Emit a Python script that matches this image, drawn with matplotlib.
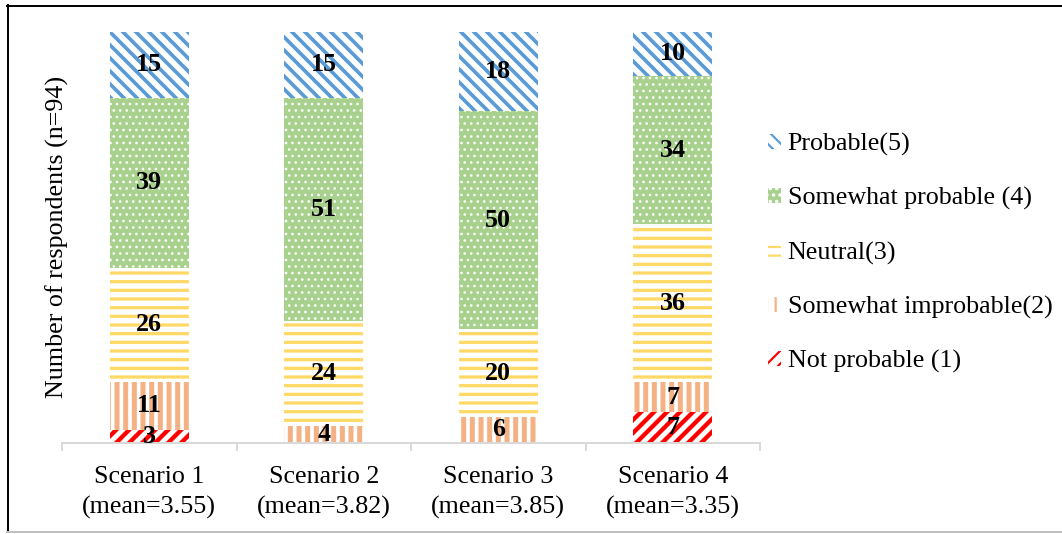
import matplotlib
matplotlib.use('Agg')
import matplotlib.pyplot as plt
import numpy as np
from matplotlib.lines import Line2D

plt.rcParams['font.family'] = ['Liberation Serif', 'DejaVu Serif']

# Data (counts of respondents, n=94)
scenarios = ['Scenario 1\n(mean=3.55)', 'Scenario 2\n(mean=3.82)',
             'Scenario 3\n(mean=3.85)', 'Scenario 4\n(mean=3.35)']
categories = ['Not probable (1)', 'Somewhat improbable(2)', 'Neutral(3)',
              'Somewhat probable (4)', 'Probable(5)']
not_probable = [3, 0, 0, 7]
somewhat_improbable = [11, 4, 6, 7]
neutral = [26, 24, 20, 36]
somewhat_probable = [39, 51, 50, 34]
probable = [15, 15, 18, 10]
series = [not_probable, somewhat_improbable, neutral, somewhat_probable, probable]

# (facecolor, hatch colour, hatch, hatch linewidth)
styles = [
    ('white', '#FF0000', '////', 2.0),
    ('white', '#F4B183', '|||', 2.3),
    ('white', '#FFD966', '---', 1.5),
    ('#A9D18E', 'white', '....', 0.6),
    ('white', '#5B9BD5', '\\\\\\\\', 1.7),
]

DPI = 156
fig = plt.figure(figsize=(1062 / DPI, 534 / DPI), dpi=DPI)
ax = fig.add_axes([62 / 1062, 1 - 443 / 534, (760 - 62) / 1062, (443 - 32) / 534])

x = np.arange(len(scenarios))
bottom = np.zeros(len(scenarios))
handles = []
for vals, name, (fc, hc, hatch, hlw) in zip(series, categories, styles):
    with plt.rc_context({'hatch.linewidth': hlw}):
        bars = ax.bar(x, vals, 0.453, bottom=bottom, facecolor=fc, edgecolor=hc,
                      hatch=hatch, linewidth=0, label=name)
    for b in bars:
        if hasattr(b, 'set_hatch_linewidth'):
            b.set_hatch_linewidth(hlw)
    ax.bar_label(bars, labels=[str(v) if v else '' for v in vals], label_type='center',
                 fontsize=12, fontweight='bold', color='black')
    bottom += np.array(vals)
    handles.append(bars)

ax.set_xlim(-0.5, 3.5)
ax.set_ylim(0, 94)
ax.set_yticks([])
for s in ['left', 'top', 'right']:
    ax.spines[s].set_visible(False)
ax.spines['bottom'].set_color('#D9D9D9')
ax.spines['bottom'].set_linewidth(0.9)

ax.set_xticks(x, scenarios, linespacing=1.45)
ax.set_xticks(np.arange(-0.5, 4, 1), minor=True)
ax.tick_params(axis='x', which='major', length=0, pad=10.5, labelsize=12)
ax.tick_params(axis='x', which='minor', length=3.7, width=0.9, color='#D9D9D9')

fig.text(57 / 1062, 1 - 237 / 534, 'Number of respondents (n=94)', rotation=90,
         ha='center', va='center', fontsize=12)

leg = fig.legend(handles[::-1], categories[::-1], loc='center left',
                 bbox_to_anchor=(768 / 1062, 1 - 253 / 534), frameon=False,
                 fontsize=12, handlelength=0.5, handleheight=0.5, handletextpad=0.25,
                 labelspacing=1.2, borderpad=0, borderaxespad=0)

# chart frame
def px(xp, yp):
    return [v / 1062 for v in xp], [1 - v / 534 for v in yp]

fig.add_artist(Line2D(*px([7, 1062], [5.5, 5.5]), color='black', lw=0.9))
fig.add_artist(Line2D(*px([7.5, 7.5], [5, 532]), color='black', lw=0.9))
fig.add_artist(Line2D(*px([7, 1062], [532, 532]), color='#BFBFBF', lw=0.9))

fig.savefig('out.png', dpi=DPI, facecolor='white')
